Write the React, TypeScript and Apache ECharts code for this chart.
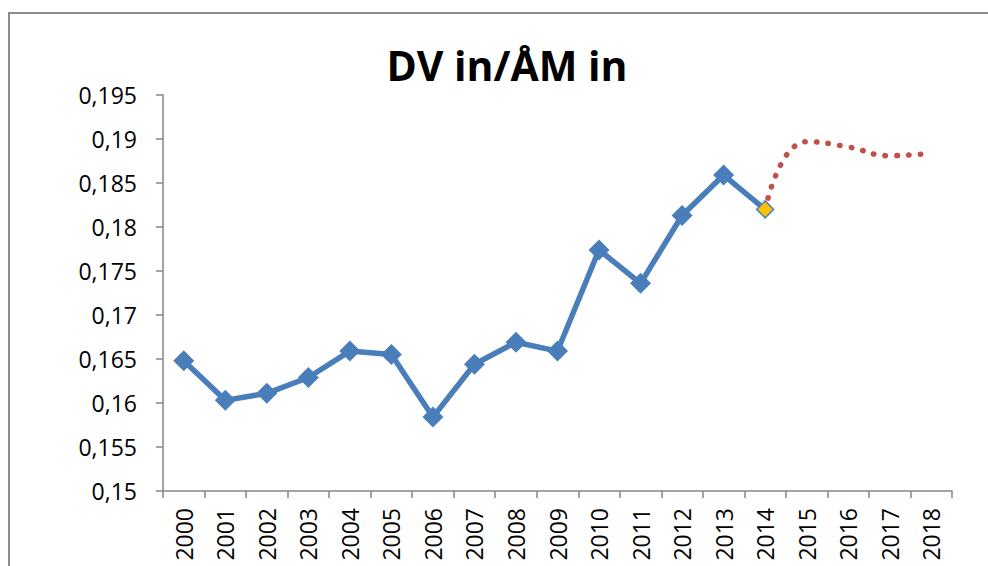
import React, { useEffect, useRef } from "react";
import * as echarts from "echarts";

const years = [
  "2000", "2001", "2002", "2003", "2004", "2005", "2006", "2007", "2008", "2009",
  "2010", "2011", "2012", "2013", "2014", "2015", "2016", "2017", "2018",
];

const actual = [
  0.1648, 0.1603, 0.1611, 0.1629, 0.1659, 0.1655, 0.1584, 0.1644, 0.1669, 0.1659,
  0.1774, 0.1736, 0.1813, 0.1859, 0.1820,
];

const forecast = [
  null, null, null, null, null, null, null, null, null, null,
  null, null, null, null, 0.1820, 0.1897, 0.1891, 0.1881, 0.1884,
];

const yMin = 0.15;
const yMax = 0.195;
const yStep = 0.005;

const titleText = "DV in/ÅM in";

export default function App() {
  const ref = useRef<HTMLDivElement>(null);

  useEffect(() => {
    if (!ref.current) return;
    const chart = echarts.init(ref.current, null, { renderer: "svg" });
    const font = "'Open Sans', 'DejaVu Sans', sans-serif";
    const axisColor = "#868686";
    const lastIdx = actual.length - 1;
    const actualData = actual.map((v, i) =>
      i === lastIdx
        ? {
            value: v,
            symbolSize: 17,
            itemStyle: { color: "#FFC000", borderColor: "#4F81BD", borderWidth: 1.5 },
          }
        : v
    );
    chart.setOption({
      animation: false,
      backgroundColor: "#ffffff",
      title: {
        text: titleText,
        left: 502,
        textAlign: "center",
        top: 39,
        textStyle: { fontFamily: font, fontWeight: "bold", fontSize: 41, color: "#000" },
      },
      graphic: [
        {
          type: "rect",
          shape: { x: 9, y: 13, width: 1200, height: 900 },
          style: { fill: "none", stroke: "#8c8c8c", lineWidth: 2 },
          silent: true,
        },
      ],
      grid: { left: 163, top: 95, right: 36, bottom: 75, containLabel: false },
      xAxis: {
        type: "category",
        data: years,
        boundaryGap: true,
        axisLine: { lineStyle: { color: axisColor, width: 1.5 } },
        axisTick: { show: true, interval: 0, length: 7, lineStyle: { color: axisColor, width: 1.5 } },
        axisLabel: {
          interval: 0,
          rotate: 90,
          margin: 17,
          fontFamily: font,
          fontSize: 23,
          color: "#000",
        },
        splitLine: { show: false },
      },
      yAxis: {
        type: "value",
        min: yMin,
        max: yMax,
        interval: yStep,
        axisLine: { show: true, lineStyle: { color: axisColor, width: 1.5 } },
        axisTick: { show: true, length: 7, lineStyle: { color: axisColor, width: 1.5 } },
        axisLabel: {
          margin: 26,
          fontFamily: font,
          fontSize: 23,
          color: "#000",
          formatter: (v: number) => String(Number(v.toFixed(3))).replace(".", ","),
        },
        splitLine: { show: false },
      },
      series: [
        {
          type: "line",
          data: forecast,
          smooth: 0.5,
          showSymbol: false,
          symbol: "none",
          lineStyle: { color: "#C0504D", width: 5.5, type: [0.5, 11.2], cap: "round" },
          z: 2,
        },
        {
          type: "line",
          data: actualData,
          symbol: "diamond",
          symbolSize: 21,
          itemStyle: { color: "#4A7EBB" },
          lineStyle: { color: "#4A7EBB", width: 5.5 },
          z: 3,
        },
      ],
    });
    return () => chart.dispose();
  }, []);

  return (
    <div
      ref={ref}
      style={{ position: "absolute", left: 0, top: 0, width: 988, height: 566 }}
    />
  );
}
